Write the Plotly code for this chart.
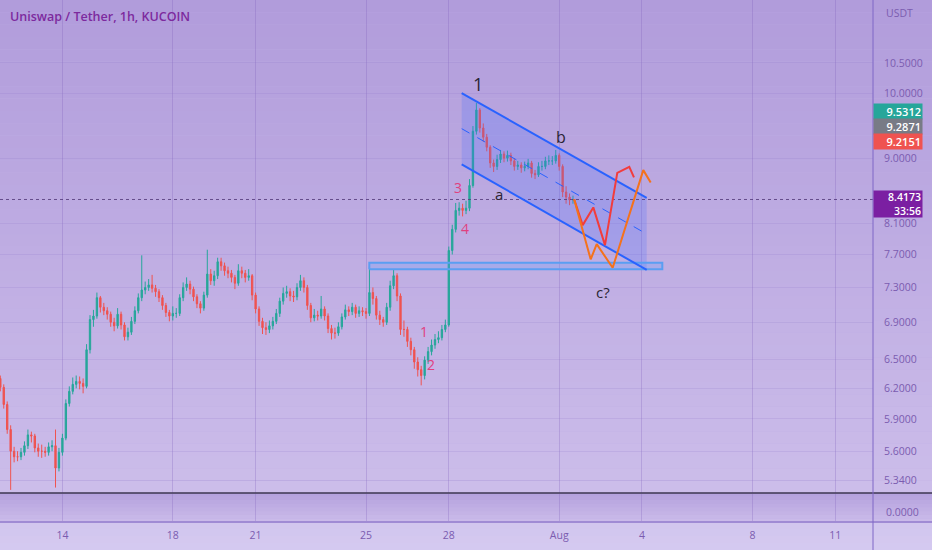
import math
import pandas as pd
import plotly.graph_objects as go

# ---------------- data ----------------
title_text = "Uniswap / Tether, 1h, KUCOIN"
start_time = "2022-07-11 18:00"
first_open = 6.30
closes = [6.21, 6.04, 5.80, 5.60, 5.55, 5.55, 5.59, 5.65, 5.75, 5.74,
          5.63, 5.60, 5.60, 5.59, 5.64, 5.65, 5.45, 5.59, 5.72, 6.05,
          6.17, 6.24, 6.27, 6.25, 6.22, 6.60, 6.93, 6.97, 7.18, 7.07,
          7.03, 6.99, 6.90, 6.86, 6.99, 6.87, 6.74, 6.79, 6.91, 7.03,
          7.18, 7.27, 7.30, 7.33, 7.29, 7.25, 7.18, 7.09, 7.01, 6.97,
          7.00, 7.00, 7.18, 7.30, 7.34, 7.28, 7.19, 7.11, 7.06, 7.21,
          7.46, 7.38, 7.44, 7.61, 7.56, 7.50, 7.47, 7.42, 7.35, 7.50,
          7.47, 7.42, 7.44, 7.21, 7.05, 6.91, 6.84, 6.82, 6.86, 6.91,
          7.00, 7.14, 7.23, 7.25, 7.20, 7.19, 7.30, 7.38, 7.30, 7.09,
          6.95, 6.98, 6.97, 7.05, 6.97, 6.83, 6.78, 6.78, 6.85, 6.96,
          7.04, 7.02, 7.07, 7.00, 7.03, 7.02, 7.00, 7.24, 7.17, 6.98,
          6.93, 6.90, 7.07, 7.32, 7.44, 7.20, 6.82, 6.82, 6.69, 6.60,
          6.47, 6.39, 6.33, 6.49, 6.58, 6.65, 6.71, 6.73, 6.82, 6.87,
          7.75, 8.02, 8.27, 8.30, 8.27, 8.30, 8.61, 9.40, 9.73, 9.45,
          9.31, 9.16, 8.93, 8.88, 8.98, 9.06, 9.00, 9.04, 8.96, 8.88,
          8.90, 8.86, 8.88, 8.93, 8.78, 8.76, 8.88, 8.88, 8.96, 8.96,
          8.96, 9.04, 8.88, 8.52, 8.45, 8.41, 8.4173]
highs = [6.33, 6.24, 6.07, 5.84, 5.64, 5.60, 5.63, 5.69, 5.80, 5.78,
         5.76, 5.67, 5.66, 5.64, 5.68, 5.70, 5.80, 5.63, 5.76, 6.09,
         6.22, 6.31, 6.33, 6.32, 6.30, 6.66, 6.98, 7.04, 7.24, 7.20,
         7.12, 7.07, 7.02, 6.95, 7.06, 7.02, 6.90, 6.84, 6.96, 7.08,
         7.23, 7.69, 7.37, 7.40, 7.45, 7.33, 7.28, 7.21, 7.12, 7.04,
         7.08, 7.06, 7.22, 7.36, 7.42, 7.38, 7.31, 7.22, 7.14, 7.25,
         7.76, 7.52, 7.50, 7.66, 7.66, 7.60, 7.55, 7.51, 7.45, 7.58,
         7.55, 7.51, 7.52, 7.46, 7.24, 7.08, 6.95, 6.90, 6.92, 6.96,
         7.05, 7.18, 7.30, 7.32, 7.29, 7.26, 7.35, 7.45, 7.42, 7.33,
         7.12, 7.05, 7.03, 7.20, 7.08, 7.00, 6.87, 6.84, 6.90, 7.00,
         7.10, 7.08, 7.12, 7.10, 7.08, 7.07, 7.06, 7.55, 7.30, 7.20,
         7.03, 6.96, 7.12, 7.38, 7.52, 7.47, 7.23, 6.92, 6.85, 6.73,
         6.63, 6.52, 6.43, 6.53, 6.63, 6.71, 6.77, 6.80, 6.87, 6.93,
         7.80, 8.08, 8.37, 8.38, 8.36, 8.40, 8.70, 9.48, 9.84, 9.76,
         9.52, 9.36, 9.19, 8.98, 9.05, 9.12, 9.10, 9.11, 9.08, 9.00,
         8.96, 8.94, 8.95, 8.99, 8.96, 8.83, 8.94, 8.96, 9.02, 9.04,
         9.03, 9.12, 9.07, 8.91, 8.60, 8.50, 8.47]
lows = [6.17, 6.00, 5.76, 5.26, 5.50, 5.51, 5.52, 5.56, 5.62, 5.68,
        5.59, 5.55, 5.54, 5.55, 5.56, 5.60, 5.28, 5.42, 5.56, 5.70,
        6.02, 6.14, 6.20, 6.19, 6.15, 6.20, 6.56, 6.85, 6.94, 7.01,
        6.98, 6.93, 6.85, 6.80, 6.83, 6.82, 6.70, 6.70, 6.76, 6.88,
        7.00, 7.14, 7.22, 7.26, 7.24, 7.19, 7.13, 7.04, 6.96, 6.91,
        6.92, 6.95, 6.97, 7.14, 7.26, 7.22, 7.14, 7.06, 7.00, 7.03,
        7.18, 7.33, 7.32, 7.40, 7.50, 7.44, 7.41, 7.36, 7.28, 7.32,
        7.41, 7.36, 7.38, 7.15, 7.00, 6.86, 6.77, 6.76, 6.78, 6.82,
        6.88, 6.96, 7.10, 7.18, 7.14, 7.13, 7.15, 7.26, 7.24, 7.04,
        6.90, 6.91, 6.92, 6.94, 6.92, 6.78, 6.71, 6.72, 6.75, 6.82,
        6.93, 6.97, 6.98, 6.95, 6.96, 6.97, 6.94, 6.97, 7.10, 6.93,
        6.87, 6.85, 6.87, 7.03, 7.28, 7.14, 6.76, 6.74, 6.63, 6.54,
        6.40, 6.32, 6.23, 6.29, 6.45, 6.54, 6.61, 6.67, 6.70, 6.79,
        6.85, 7.70, 7.98, 8.20, 8.19, 8.22, 8.26, 8.58, 9.35, 9.38,
        9.24, 9.10, 8.86, 8.80, 8.83, 8.93, 8.94, 8.95, 8.90, 8.82,
        8.83, 8.79, 8.81, 8.84, 8.72, 8.70, 8.73, 8.82, 8.84, 8.90,
        8.90, 8.92, 8.82, 8.45, 8.36, 8.34, 8.36]
opens = [first_open] + closes[:-1]

last_price = 8.4173
countdown = "33:56"
side_labels = ["9.5312", "9.2871", "9.2151"]
side_colors = ["#26a69a", "#787b86", "#ef5350"]

y_tick_vals = [10.5, 10.0, 9.0, 8.1, 7.7, 7.3, 6.9, 6.5, 6.2, 5.9, 5.6, 5.34]
x_tick_dates = ["2022-07-14", "2022-07-18", "2022-07-21", "2022-07-25", "2022-07-28",
                "2022-08-01", "2022-08-04", "2022-08-08", "2022-08-11"]
x_tick_text = ["14", "18", "21", "25", "28", "Aug", "4", "8", "11"]
x_range = ["2022-07-11 17:44", "2022-08-12 08:53"]
y_range_prices = [5.2337, 11.626]

channel_t = ["2022-07-28 11:12", "2022-08-04 04:05"]
channel_upper = [10.0, 8.44]
channel_lower = [8.91, 7.51]
channel_mid = [9.44, 7.96]

zone_t = ["2022-07-25 02:53", "2022-08-04 17:40"]
zone_p = [7.517, 7.598]

red_t = ["2022-08-01 13:00", "2022-08-01 20:26", "2022-08-02 05:40", "2022-08-02 15:49",
         "2022-08-03 02:31", "2022-08-03 12:57", "2022-08-03 17:02"]
red_p = [8.42, 8.075, 8.31, 7.818, 8.789, 8.874, 8.724]
orange_t = ["2022-08-01 13:00", "2022-08-02 03:23", "2022-08-02 08:37", "2022-08-02 22:31",
            "2022-08-04 01:08", "2022-08-04 07:34"]
orange_p = [8.42, 7.64, 7.83, 7.537, 8.827, 8.651]

wave_text = ["1", "b", "a", "c?", "3", "4", "1", "2"]
wave_t = ["2022-07-29 01:24", "2022-08-01 01:34", "2022-07-29 19:40", "2022-08-02 14:05",
          "2022-07-28 08:21", "2022-07-28 14:25", "2022-07-27 02:00", "2022-07-27 08:57"]
wave_p = [10.144, 9.311, 8.49, 7.245, 8.586, 8.036, 6.803, 6.449]
wave_color = ["#2a2433", "#2a2433", "#2a2433", "#2a2433", "#e0407f", "#e0407f", "#e0407f", "#e0407f"]
wave_size = [18, 16, 15, 15, 14, 14, 14, 14]

# ---------------- layout constants ----------------
W, H = 932, 550
PW, PH = 873, 493          # plot area in px (main pane)
AX_COLOR = "#7b5cb0"
FONT = "Open Sans"


def py(p):
    return (PH - p) / PH


def px(p):
    return p / PW


times = pd.date_range(start_time, periods=len(closes), freq="3h")

fig = go.Figure()

# channel fill
fig.add_trace(go.Scatter(
    x=[channel_t[0], channel_t[1], channel_t[1], channel_t[0], channel_t[0]],
    y=[channel_upper[0], channel_upper[1], channel_lower[1], channel_lower[0], channel_upper[0]],
    fill="toself", fillcolor="rgba(70,110,255,0.22)", mode="lines",
    line=dict(width=0), hoverinfo="skip"))
# support zone
fig.add_trace(go.Scatter(
    x=[zone_t[0], zone_t[1], zone_t[1], zone_t[0], zone_t[0]],
    y=[zone_p[0], zone_p[0], zone_p[1], zone_p[1], zone_p[0]],
    fill="toself", fillcolor="rgba(90,160,250,0.25)", mode="lines",
    line=dict(width=2, color="#5a9ef2"), hoverinfo="skip"))

# candles
fig.add_trace(go.Candlestick(
    x=times, open=opens, high=highs, low=lows, close=closes,
    increasing=dict(line=dict(color="#26a69a", width=1), fillcolor="#26a69a"),
    decreasing=dict(line=dict(color="#ef5350", width=1), fillcolor="#ef5350"),
    whiskerwidth=0, hoverinfo="skip"))

# last price dotted line
fig.add_trace(go.Scatter(x=x_range, y=[last_price, last_price], mode="lines",
                         line=dict(color="rgba(85,60,125,0.85)", width=1, dash="dot"),
                         hoverinfo="skip"))

# channel lines
fig.add_trace(go.Scatter(x=channel_t, y=channel_upper, mode="lines",
                         line=dict(color="#2962ff", width=2), hoverinfo="skip"))
fig.add_trace(go.Scatter(x=channel_t, y=channel_lower, mode="lines",
                         line=dict(color="#2962ff", width=2), hoverinfo="skip"))
fig.add_trace(go.Scatter(x=channel_t, y=channel_mid, mode="lines",
                         line=dict(color="#2962ff", width=1, dash="dash"), hoverinfo="skip"))

# projected paths
fig.add_trace(go.Scatter(x=red_t, y=red_p, mode="lines",
                         line=dict(color="#f23c3c", width=2), hoverinfo="skip"))
fig.add_trace(go.Scatter(x=orange_t, y=orange_p, mode="lines",
                         line=dict(color="#f5721b", width=2), hoverinfo="skip"))

annotations = []
for t, p, s, c, fs in zip(wave_t, wave_p, wave_text, wave_color, wave_size):
    annotations.append(dict(x=t, y=math.log10(p), xref="x", yref="y", text=s, showarrow=False,
                            font=dict(family=FONT, size=fs, color=c)))

annotations.append(dict(x=px(8), y=py(16), xref="paper", yref="paper", xanchor="left",
                        yanchor="middle", text=title_text, showarrow=False,
                        font=dict(family=FONT, size=12.5, color="#7d2a9e", weight=600)))
annotations.append(dict(x=px(884), y=py(13), xref="paper", yref="paper", xanchor="left",
                        yanchor="middle", text="USDT", showarrow=False,
                        font=dict(family=FONT, size=10.5, color=AX_COLOR)))
annotations.append(dict(x=px(884), y=py(512), xref="paper", yref="paper", xanchor="left",
                        yanchor="middle", text="0.0000", showarrow=False,
                        font=dict(family=FONT, size=10.5, color=AX_COLOR)))

box_centers = [111.7, 126.6, 141.5]
for s, c, yc in zip(side_labels, side_colors, box_centers):
    annotations.append(dict(x=1, y=py(yc), xref="paper", yref="paper", xanchor="left",
                            yanchor="middle", text=s, showarrow=False, bgcolor=c,
                            width=46, height=13, borderpad=1, align="right",
                            font=dict(family=FONT, size=11, color="white", weight=600)))
annotations.append(dict(x=1, y=py(203.5), xref="paper", yref="paper", xanchor="left",
                        yanchor="middle", text=f"{last_price:.4f}<br>{countdown}",
                        showarrow=False, bgcolor="#7b1fa2", width=46, height=24, borderpad=1,
                        align="right", font=dict(family=FONT, size=10.5, color="white", weight=600)))

# ---------------- background shapes ----------------
shapes = []


def band(p0, p1, c0, c1, n):
    out = []
    for k in range(n):
        a = p0 + (p1 - p0) * k / n
        b = p0 + (p1 - p0) * (k + 1) / n
        f = (k + 0.5) / n
        col = tuple(round(c0[j] + (c1[j] - c0[j]) * f) for j in range(3))
        out.append(dict(type="rect", xref="paper", yref="paper", x0=-0.01, x1=W / PW + 0.01,
                        y0=py(b), y1=py(a), fillcolor="rgb(%d,%d,%d)" % col,
                        line=dict(width=0), layer="below"))
    return out


shapes += band(0, 493, (177, 156, 219), (204, 189, 234), 40)
shapes += band(493, 522, (180, 160, 221), (203, 188, 234), 8)
shapes += band(522, 550, (209, 197, 238), (213, 202, 240), 4)
# separators
shapes.append(dict(type="line", xref="paper", yref="paper", x0=0, x1=W / PW, y0=py(493), y1=py(493),
                   line=dict(color="#3d3650", width=1.5)))
shapes.append(dict(type="line", xref="paper", yref="paper", x0=0, x1=W / PW, y0=py(522), y1=py(522),
                   line=dict(color="#a08bd4", width=2)))
shapes.append(dict(type="line", xref="paper", yref="paper", x0=1, x1=1, y0=py(0), y1=py(550),
                   line=dict(color="#7e66c6", width=1)))

fig.update_layout(
    width=W, height=H,
    margin=dict(l=0, r=W - PW, t=0, b=H - PH),
    paper_bgcolor="rgb(190,174,228)", plot_bgcolor="rgba(0,0,0,0)",
    showlegend=False, hovermode=False, boxgap=0.45,
    shapes=shapes, annotations=annotations,
    xaxis=dict(type="date", range=x_range, tickvals=x_tick_dates, ticktext=x_tick_text,
               showgrid=True, gridcolor="rgba(125,95,185,0.28)", gridwidth=1,
               ticks="outside", ticklen=29, tickcolor="rgba(125,95,185,0.28)", tickwidth=1,
               ticklabelstandoff=3,
               tickfont=dict(family=FONT, size=10.5, color=AX_COLOR),
               showline=False, zeroline=False, rangeslider=dict(visible=False), fixedrange=True),
    yaxis=dict(type="log", side="right",
               range=[math.log10(y_range_prices[0]), math.log10(y_range_prices[1])],
               tickvals=y_tick_vals, ticktext=["%.4f" % v for v in y_tick_vals],
               ticks="outside", ticklen=8, tickcolor="rgba(0,0,0,0)",
               showgrid=True, gridcolor="rgba(140,115,200,0.18)",
               tickfont=dict(family=FONT, size=10.5, color=AX_COLOR),
               showline=False, zeroline=False, fixedrange=True),
)

fig.write_html("out.html", config={"displayModeBar": False},
               post_script="document.body.style.margin='0';document.body.style.overflow='hidden';")
